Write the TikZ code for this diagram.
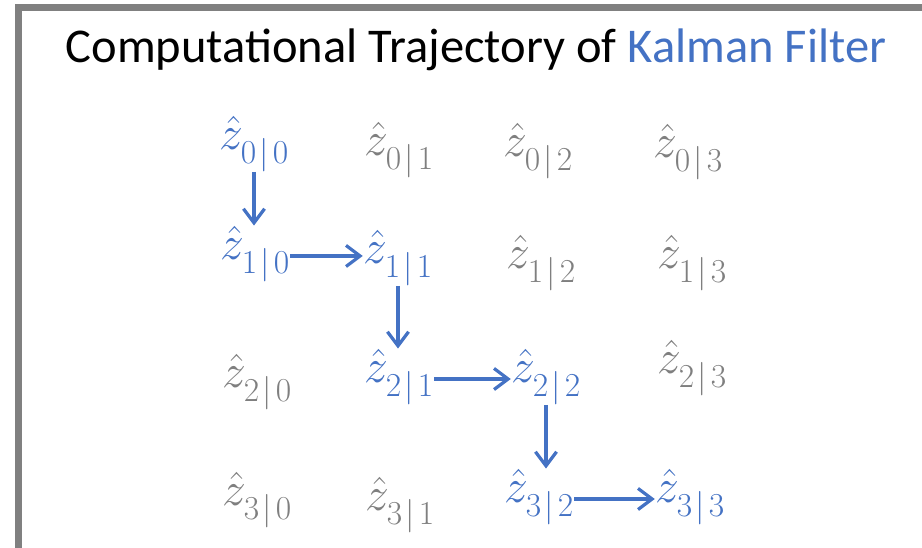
\RequirePackage{fix-cm}
\documentclass[tikz,border=0pt]{standalone}
\usepackage{amsmath}
\usepackage[no-math]{fontspec}
\newfontfamily\titlefont{Carlito}
\usetikzlibrary{arrows.meta,positioning}

\definecolor{kfblue}{HTML}{4472C4}
\definecolor{kfgray}{HTML}{7F7F7F}
\definecolor{framegray}{HTML}{808080}

% estimate \hat z_{k|j}, subscript set a bit lower
\newcommand{\zhat}[2]{$\hat{z}_{\lower0.15em\hbox{$\scriptstyle #1\mkern2mu|\mkern2mu#2$}}$}

\begin{document}
\begin{tikzpicture}[x=0.025cm, y=-0.025cm,
  est/.style={inner sep=0pt, anchor=base, font=\fontsize{34}{40}\selectfont},
  onpath/.style={est, text=kfblue},
  offpath/.style={est, text=kfgray},
  flow/.style={kfblue, line width=2.3pt, -{Straight Barb[length=10pt, width=15pt]}}]

\useasboundingbox (0,0) rectangle (922,547);

% Frame
\draw[framegray, line width=5pt] (18.5,560) |- (940,7.5);

% Title
\node[anchor=base, inner sep=0pt, font=\titlefont\fontsize{34.5}{40}\selectfont] (title) at (476,62)
  {Computational Trajectory of \textcolor{kfblue}{Kalman Filter}};

% Row 0
\node[onpath]  (z00) at (254,149) {\zhat{0}{0}};
\node[offpath] (z01) at (399,155) {\zhat{0}{1}};
\node[offpath] (z02) at (538,156) {\zhat{0}{2}};
\node[offpath] (z03) at (688,157) {\zhat{0}{3}};

% Row 1
\node[onpath]  (z10) at (255,259) {\zhat{1}{0}};
\node[onpath]  (z11) at (398,263) {\zhat{1}{1}};
\node[offpath] (z12) at (541,268) {\zhat{1}{2}};
\node[offpath] (z13) at (692,268) {\zhat{1}{3}};

% Row 2
\node[offpath] (z20) at (257,387) {\zhat{2}{0}};
\node[onpath]  (z21) at (399,382) {\zhat{2}{1}};
\node[onpath]  (z22) at (546,382) {\zhat{2}{2}};
\node[offpath] (z23) at (692,373) {\zhat{2}{3}};

% Row 3
\node[offpath] (z30) at (257,505) {\zhat{3}{0}};
\node[offpath] (z31) at (400,510) {\zhat{3}{1}};
\node[onpath]  (z32) at (539,502) {\zhat{3}{2}};
\node[onpath]  (z33) at (690,502) {\zhat{3}{3}};

% Trajectory
\draw[flow] (z00.south) -- (z00.south |- z10.north);
\draw[flow] (z10.mid east) -- (z10.mid east -| z11.west);
\draw[flow] (z11.south) -- (z11.south |- z21.north);
\draw[flow] (z21.mid east) -- (z21.mid east -| z22.west);
\draw[flow] (z22.south) -- (z22.south |- z32.north);
\draw[flow] (z32.mid east) -- (z32.mid east -| z33.west);

\end{tikzpicture}
\end{document}
